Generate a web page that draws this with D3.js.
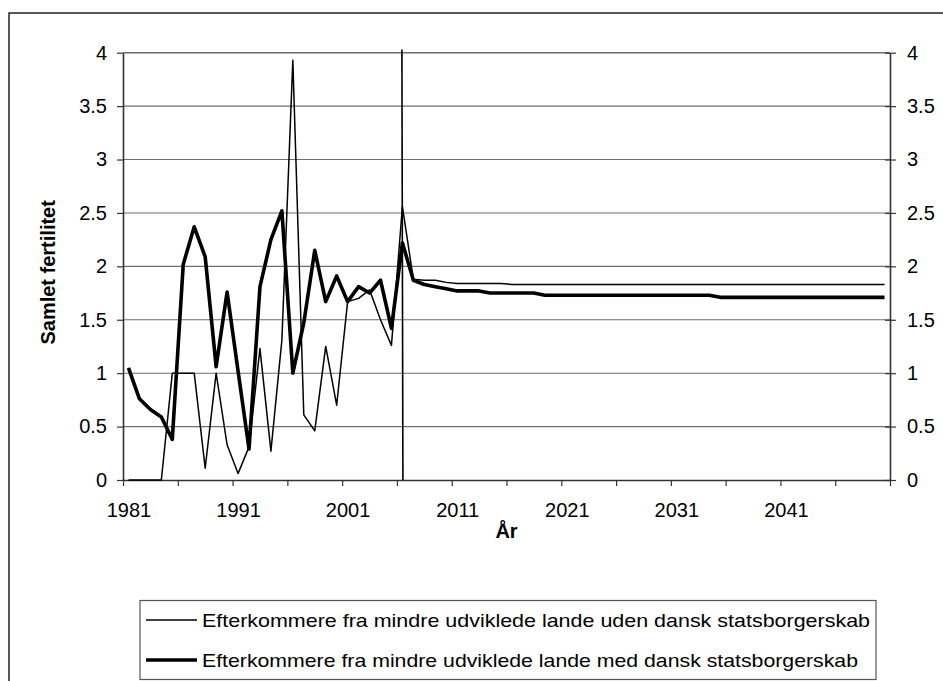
<!DOCTYPE html>
<html>
<head>
<meta charset="utf-8">
<script src="https://cdn.jsdelivr.net/npm/d3@7"></script>
<style>
body{margin:0;background:#fff;}
svg{display:block;font-family:Arial,"Liberation Sans",sans-serif;}
</style>
</head>
<body>
<svg id="chart" width="943" height="681"></svg>
<script>
// categories
var years = d3.range(1981, 2051);
var labelYears = [1981, 1991, 2001, 2011, 2021, 2031, 2041];
var yTicks = [0, 0.5, 1, 1.5, 2, 2.5, 3, 3.5, 4];
var markerYear = 2006;

var seriesNames = [
	"Efterkommere fra mindre udviklede lande uden dansk statsborgerskab",
	"Efterkommere fra mindre udviklede lande med dansk statsborgerskab"
];

// uden dansk statsborgerskab (thin)
var udenValues = [
	0, 0, 0, 0, 1.0, 1.0, 1.0, 0.11, 1.0, 0.33,
	0.06, 0.31, 1.23, 0.27, 1.31, 3.93, 0.61, 0.46, 1.25, 0.70,
	1.67, 1.70, 1.78, 1.50, 1.26, 2.56, 1.88, 1.87, 1.87, 1.85,
	1.84, 1.84, 1.84, 1.84, 1.84, 1.83, 1.83, 1.83, 1.83, 1.83,
	1.83, 1.83, 1.83, 1.83, 1.83, 1.83, 1.83, 1.83, 1.83, 1.83,
	1.83, 1.83, 1.83, 1.83, 1.83, 1.83, 1.83, 1.83, 1.83, 1.83,
	1.83, 1.83, 1.83, 1.83, 1.83, 1.83, 1.83, 1.83, 1.83, 1.83
];

// med dansk statsborgerskab (thick)
var medValues = [
	1.05, 0.76, 0.66, 0.59, 0.38, 2.02, 2.37, 2.09, 1.06, 1.76,
	1.02, 0.29, 1.81, 2.25, 2.52, 1.00, 1.47, 2.15, 1.67, 1.91,
	1.67, 1.81, 1.75, 1.87, 1.42, 2.22, 1.87, 1.83, 1.81, 1.79,
	1.77, 1.77, 1.77, 1.75, 1.75, 1.75, 1.75, 1.75, 1.73, 1.73,
	1.73, 1.73, 1.73, 1.73, 1.73, 1.73, 1.73, 1.73, 1.73, 1.73,
	1.73, 1.73, 1.73, 1.73, 1.71, 1.71, 1.71, 1.71, 1.71, 1.71,
	1.71, 1.71, 1.71, 1.71, 1.71, 1.71, 1.71, 1.71, 1.71, 1.71
];

var plotLeft = 123, plotRight = 890, plotTop = 52.7, plotBottom = 480;

var svg = d3.select("#chart");

// outer chart border (runs off the right and bottom)
svg.append("rect")
	.attr("x", 9).attr("y", 13)
	.attr("width", 1000).attr("height", 1000)
	.attr("fill", "none")
	.attr("stroke", "#222")
	.attr("stroke-width", 1.5);

var x = d3.scaleLinear()
	.domain([years[0] - 0.5, years[years.length - 1] + 0.5])
	.range([plotLeft, plotRight]);

var y = d3.scaleLinear()
	.domain([0, 4])
	.range([plotBottom, plotTop]);

// gridlines
svg.append("g")
	.selectAll("line")
	.data(yTicks.filter(d => d > 0))
	.enter()
	.append("line")
	.attr("x1", plotLeft).attr("x2", plotRight)
	.attr("y1", d => y(d)).attr("y2", d => y(d))
	.attr("stroke", "#6e6e6e")
	.attr("stroke-width", d => d === 4 ? 1.6 : 1.1);

// x axis: ticks between categories every 5 years, labels every 10
var boundaryTicks = [];
for (let i = 0; i <= years.length; i += 5) boundaryTicks.push(years[0] - 0.5 + i);

svg.append("g")
	.attr("transform", "translate(0," + plotBottom + ")")
	.call(d3.axisBottom(x).tickValues(boundaryTicks).tickFormat("").tickSizeInner(6).tickSizeOuter(0));

var xAxisLabels = svg.append("g")
	.attr("transform", "translate(0," + plotBottom + ")")
	.call(d3.axisBottom(x).tickValues(labelYears).tickFormat(d3.format("d")).tickSize(0).tickPadding(23));
xAxisLabels.select(".domain").remove();

// y axes
svg.append("g")
	.attr("transform", "translate(" + plotLeft + ",0)")
	.call(d3.axisLeft(y).tickValues(yTicks).tickFormat(d3.format("")).tickSizeInner(6).tickSizeOuter(0).tickPadding(10));

var yRight = svg.append("g")
	.attr("transform", "translate(" + plotRight + ",0)")
	.call(d3.axisRight(y).tickValues(yTicks).tickFormat(d3.format("")).tickSizeInner(6).tickSizeOuter(0).tickPadding(11));
yRight.selectAll(".tick line").attr("x1", -5);

svg.selectAll(".domain").attr("stroke", "#333").attr("stroke-width", 1.6);
svg.selectAll(".tick line").attr("stroke", "#333").attr("stroke-width", 1.2);
svg.selectAll(".tick text")
	.attr("font-family", "Arial, 'Liberation Sans', sans-serif")
	.attr("font-size", 20)
	.attr("fill", "#000");

// axis titles
svg.append("text")
	.attr("transform", "translate(55," + ((plotTop + plotBottom) / 2 + 6) + ") rotate(-90)")
	.attr("text-anchor", "middle")
	.attr("font-size", 20)
	.attr("font-weight", "bold")
	.text("Samlet fertilitet");

svg.append("text")
	.attr("x", (plotLeft + plotRight) / 2)
	.attr("y", 538)
	.attr("text-anchor", "middle")
	.attr("font-size", 20)
	.attr("font-weight", "bold")
	.text("År");

// series
var line = d3.line()
	.x((d, i) => x(years[i]))
	.y(d => y(d));

svg.append("path")
	.datum(udenValues)
	.attr("d", line)
	.attr("fill", "none")
	.attr("stroke", "#000")
	.attr("stroke-width", 1.5)
	.attr("stroke-linejoin", "round");

svg.append("path")
	.datum(medValues)
	.attr("d", line)
	.attr("fill", "none")
	.attr("stroke", "#000")
	.attr("stroke-width", 3.6)
	.attr("stroke-linejoin", "round");

// vertical marker line
svg.append("line")
	.attr("x1", x(markerYear) - 0.5).attr("x2", x(markerYear) + 0.5)
	.attr("y1", y(4.03)).attr("y2", y(0))
	.attr("stroke", "#000")
	.attr("stroke-width", 1.6);

// legend
var legend = svg.append("g");
legend.append("rect")
	.attr("x", 140).attr("y", 600.5)
	.attr("width", 736).attr("height", 79)
	.attr("fill", "#fff")
	.attr("stroke", "#555")
	.attr("stroke-width", 1.2);

var legendRows = legend.selectAll(".row")
	.data(seriesNames)
	.enter()
	.append("g")
	.classed("row", true)
	.attr("transform", (d, i) => "translate(0," + (620 + i * 40) + ")");

legendRows.append("line")
	.attr("x1", 146).attr("x2", 197)
	.attr("stroke", "#000")
	.attr("stroke-width", (d, i) => i === 0 ? 1.5 : 3.6);

legendRows.append("text")
	.attr("x", 202)
	.attr("dy", "0.35em")
	.attr("font-size", 19)
	.attr("textLength", (d, i) => i === 0 ? 668 : 656)
	.attr("lengthAdjust", "spacingAndGlyphs")
	.text(d => d);
</script>
</body>
</html>
